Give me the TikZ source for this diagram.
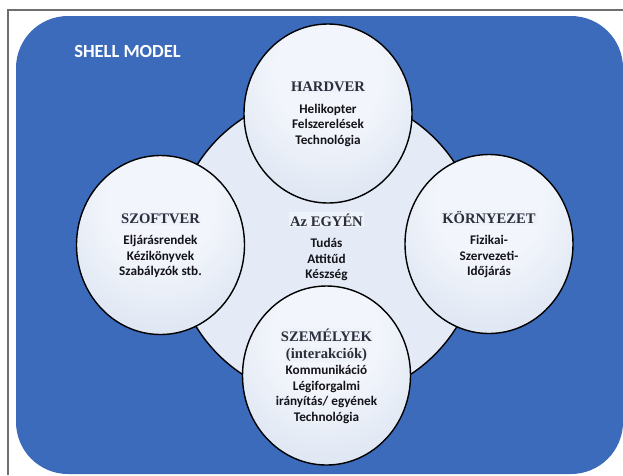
\documentclass[tikz,border=0pt]{standalone}
\usepackage{fontspec}
\setmainfont{Liberation Serif}
\newfontfamily\calibrifont{Carlito}
\usetikzlibrary{shapes.geometric, positioning}
\definecolor{shellblue}{RGB}{59,107,186}
\definecolor{framegrey}{RGB}{110,110,110}
\definecolor{discpale}{RGB}{242,245,251}
\definecolor{discmid}{RGB}{215,225,240}
\definecolor{discedge}{RGB}{184,200,228}
\definecolor{hubpale}{RGB}{228,235,246}
\definecolor{hubedge}{RGB}{200,212,233}
\definecolor{headband}{RGB}{238,242,249}
\definecolor{headgrey}{RGB}{44,46,60}
\definecolor{textblack}{RGB}{20,20,26}
\pgfdeclareradialshading{discshade}{\pgfpoint{0bp}{14bp}}{%
  color(0bp)=(discpale); color(16bp)=(discpale); color(40bp)=(discmid);
  color(64bp)=(discedge); color(80bp)=(discedge)}
\pgfdeclareradialshading{hubshade}{\pgfpoint{0bp}{6bp}}{%
  color(0bp)=(hubpale); color(30bp)=(hubpale);
  color(52bp)=(hubedge); color(60bp)=(hubedge)}
\tikzset{
  frame/.style = {draw=framegrey, line width=1.5pt},
  shell/.style = {fill=shellblue, rounded corners=52pt},
  title/.style = {text=white, inner sep=0pt,
                  font=\calibrifont\bfseries\fontsize{18.5}{20}\selectfont},
  element/.style = {draw, ellipse, line width=1.4pt, inner sep=0pt,
                    shading=discshade, text=textblack,
                    minimum width=168pt, minimum height=179pt, align=center,
                    font=\calibrifont\bfseries\fontsize{13.2}{15.5}\selectfont},
  hub/.style = {element, circle, minimum size=306pt, shading=hubshade},
}
\newcommand{\elemhead}[1]{{\setlength{\fboxsep}{1.2pt}%
  \colorbox{headband}{\rmfamily\bfseries\fontsize{14.6}{15.5}\selectfont\color{headgrey}#1}}}

\begin{document}
\begin{tikzpicture}[x=1pt, y=-1pt]
  \useasboundingbox (0,0) rectangle (623,475);

  % blue panel and the page frame
  \fill [shell] (16,16) rectangle (623,474);
  \draw [frame] (8,475) -- (8,10) -- (623,10);
  \node (title) [title] at (127.5,51) {SHELL MODEL};

  % the individual in the middle
  \node (egyen) [hub] at (326.5,246.5)
    {\elemhead{Az EGYÉN}\\[6pt] Tudás\\ Attitűd\\ Készség};

  % the four surrounding elements
  \node (hardver) [element] at (328,113.5)
    {\elemhead{HARDVER}\\[6pt] Helikopter\\ Felszerelések\\ Technológia};
  \node (szoftver) [element] at (160.5,245)
    {\elemhead{SZOFTVER}\\[6pt] Eljárásrendek\\ Kézikönyvek\\ Szabályzók stb.};
  \node (kornyezet) [element] at (489,244)
    {\elemhead{KÖRNYEZET}\\[6pt] Fizikai-\\ Szervezeti-\\ Időjárás};
  \node (szemelyek) [element] at (326.5,375.5)
    {\elemhead{SZEMÉLYEK}\\[1pt] \elemhead{(interakciók)}\\[1pt]
     Kommunikáció\\ Légiforgalmi\\ irányítás/ egyének\\ Technológia};
\end{tikzpicture}
\end{document}
